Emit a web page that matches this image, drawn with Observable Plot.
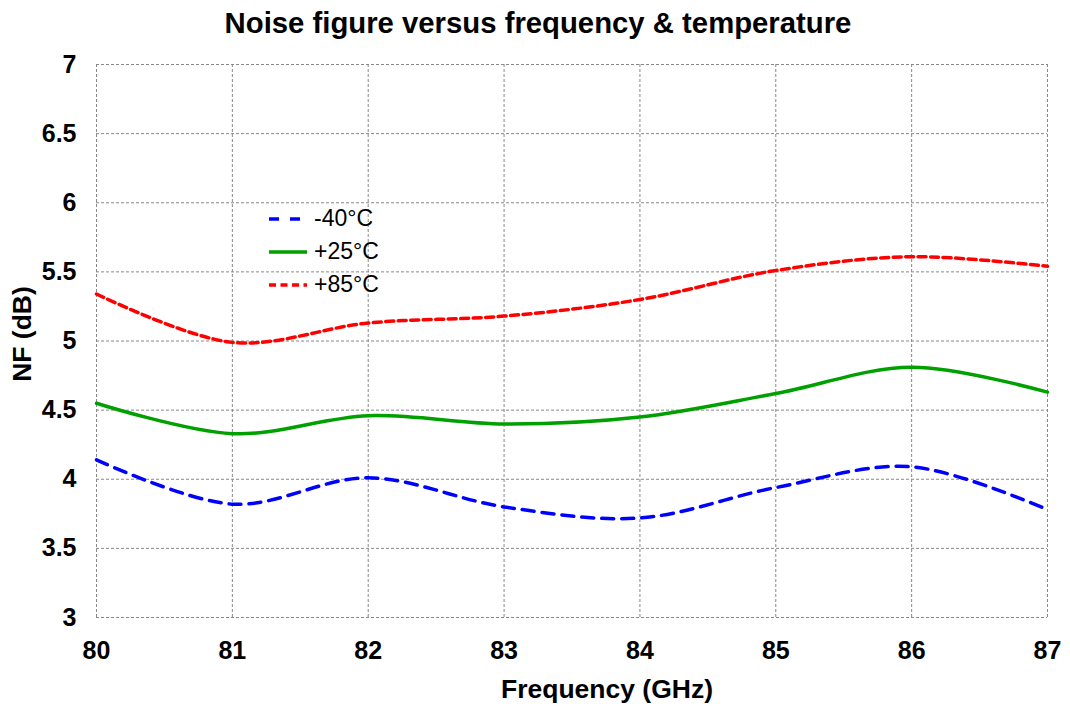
<!DOCTYPE html>
<html>
<head>
<meta charset="utf-8">
<script src="https://cdn.jsdelivr.net/npm/d3@7"></script>
<script src="https://cdn.jsdelivr.net/npm/@observablehq/plot@0.6"></script>
<style>
  body { margin: 0; background: #fff; font-family: "Liberation Sans", Arial, sans-serif; }
  #wrap { position: relative; width: 1070px; height: 706px; }
  #title { height: 44px; line-height: 46px; text-align: center; font-weight: bold; font-size: 29.3px; color: #000; padding-left: 6px; box-sizing: border-box; white-space: nowrap; }
  #legend { position: absolute; left: 268px; top: 202px; font-size: 23px; color: #000; }
  #legend .row { height: 33px; display: flex; align-items: center; }
  #legend svg { margin-right: 6px; }
  .axlabel { position: absolute; font-weight: bold; color: #000; white-space: nowrap; line-height: 1; }
  #xlabel { left: 607px; top: 688.5px; font-size: 26.5px; transform: translate(-50%, -50%); }
  #ylabel { left: 22px; top: 334px; font-size: 26.5px; transform: translate(-50%, -50%) rotate(-90deg); }
</style>
</head>
<body>
<div id="wrap">
  <div id="title">Noise figure versus frequency &amp; temperature</div>
  <div id="chart"></div>
  <div id="legend"></div>
  <div class="axlabel" id="xlabel">Frequency (GHz)</div>
  <div class="axlabel" id="ylabel">NF (dB)</div>
</div>
<script>
const freqs = [80, 81, 82, 83, 84, 85, 86, 87];
const nfMinus40 = [4.14, 3.82, 4.01, 3.80, 3.72, 3.94, 4.09, 3.78];
const nfPlus25 = [4.55, 4.33, 4.46, 4.40, 4.45, 4.62, 4.81, 4.63];
const nfPlus85 = [5.34, 4.99, 5.13, 5.18, 5.30, 5.51, 5.61, 5.54];
const seriesNames = ["-40°C", "+25°C", "+85°C"];
const seriesColors = ["#0000ff", "#00a000", "#ff0000"];
const seriesDash = ["12,8", null, "8,4.5"];
const yTicks = [3, 3.5, 4, 4.5, 5, 5.5, 6, 6.5, 7];
const xTicks = [80, 81, 82, 83, 84, 85, 86, 87];

const allSeries = [nfMinus40, nfPlus25, nfPlus85];
const data = [];
allSeries.forEach((vals, si) => vals.forEach((v, i) => data.push({f: freqs[i], nf: v, s: seriesNames[si]})));

const gridStyle = {stroke: "#888", strokeOpacity: 1, strokeWidth: 1, strokeDasharray: "3,2"};

const plot = Plot.plot({
  width: 1070,
  height: 662,
  marginLeft: 96,
  marginRight: 23,
  marginTop: 20,
  marginBottom: 89,
  style: {fontFamily: "'Liberation Sans', Arial, sans-serif", background: "#fff"},
  x: {domain: [80, 87], ticks: xTicks},
  y: {domain: [3, 7], ticks: yTicks},
  marks: [
    Plot.gridX(xTicks, {...gridStyle}),
    Plot.gridY(yTicks, {...gridStyle}),
    Plot.axisX(xTicks, {tickSize: 0, tickPadding: 24, fontSize: 25, fontWeight: "bold", fill: "#000", label: null,
      tickFormat: d => String(d)}),
    Plot.axisY(yTicks, {tickSize: 0, tickPadding: 20, fontSize: 25, fontWeight: "bold", fill: "#000", label: null,
      tickFormat: d => String(d)}),
    ...seriesNames.map((name, si) => Plot.line(data.filter(d => d.s === name), {
      x: "f", y: "nf", stroke: seriesColors[si], strokeWidth: 3.5,
      strokeDasharray: seriesDash[si] || undefined, curve: "catmull-rom"
    }))
  ]
});
document.getElementById("chart").appendChild(plot);

const leg = document.getElementById("legend");
seriesNames.forEach((name, si) => {
  const row = document.createElement("div");
  row.className = "row";
  const dash = seriesDash[si] ? `stroke-dasharray="${si === 0 ? '10,11' : '7,4.5'}"` : "";
  row.innerHTML = `<svg width="40" height="10"><line x1="1" x2="39" y1="5" y2="5" stroke="${seriesColors[si]}" stroke-width="3.5" ${dash}/></svg><span>${name}</span>`;
  leg.appendChild(row);
});
</script>
</body>
</html>
